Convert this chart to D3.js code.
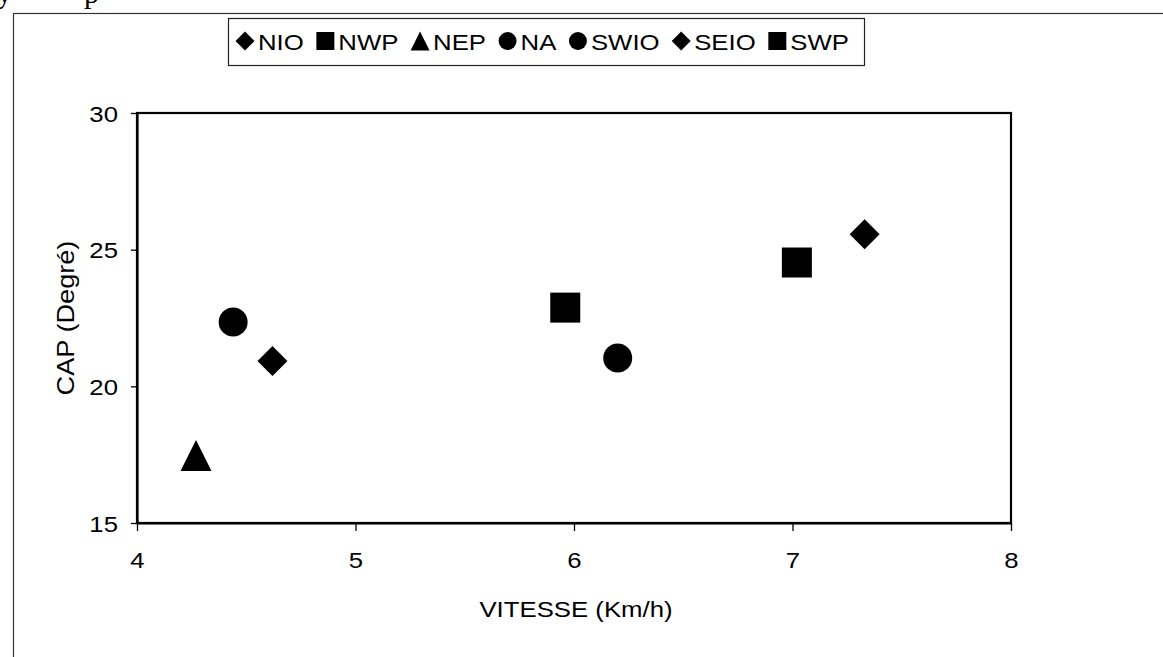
<!DOCTYPE html>
<html>
<head>
<meta charset="utf-8">
<script src="https://cdn.jsdelivr.net/npm/d3@7"></script>
<style>
  html, body { margin: 0; padding: 0; background: #fff; }
  svg { display: block; }
  text { font-family: Arial, "Liberation Sans", sans-serif; fill: #000; }
</style>
</head>
<body>
<svg id="chart" width="1163" height="657"></svg>
<script>
// ---- data ----
const categories = ["NIO", "NWP", "NEP", "NA", "SWIO", "SEIO", "SWP"];
const speedValues = [4.62, 5.96, 4.27, 4.44, 6.20, 7.33, 7.02];
const capValues = [20.93, 22.88, 17.47, 22.35, 21.04, 25.56, 24.53];
const markerShapes = ["diamond", "square", "triangle", "circle", "circle", "diamond", "square"];
const xTicks = [4, 5, 6, 7, 8];
const yTicks = [15, 20, 25, 30];
const xTitle = "VITESSE (Km/h)";
const yTitle = "CAP (Degré)";

// ---- layout ----
const plot = { left: 137, right: 1011, top: 113, bottom: 523 };
const svg = d3.select("#chart");
const stretch = 1.12;

// scanned-page fragments at top-left
svg.append("text").attr("x", -3).attr("y", 3).style("font-family", "'Liberation Serif', serif")
  .style("font-size", "30px").text("y");
svg.append("text").attr("x", 84).attr("y", 3).style("font-family", "'Liberation Serif', serif")
  .style("font-size", "30px").text("p");

// outer chart border (extends past right/bottom edges)
svg.append("rect").attr("x", 13.5).attr("y", 13.5).attr("width", 1300).attr("height", 800)
  .attr("fill", "none").attr("stroke", "#333").attr("stroke-width", 1.2);

const x = d3.scaleLinear().domain([4, 8]).range([plot.left, plot.right]);
const y = d3.scaleLinear().domain([15, 30]).range([plot.bottom, plot.top]);

// custom symbol types
const symDiamond = { draw(ctx, size) { const r = Math.sqrt(size) / 2; ctx.moveTo(0, -r); ctx.lineTo(r, 0); ctx.lineTo(0, r); ctx.lineTo(-r, 0); ctx.closePath(); } };
const symSquare = { draw(ctx, size) { const r = Math.sqrt(size) / 2; ctx.rect(-r, -r, 2 * r, 2 * r); } };
const symTriangle = { draw(ctx, size) { const r = Math.sqrt(size) / 2; ctx.moveTo(0, -r); ctx.lineTo(r, r); ctx.lineTo(-r, r); ctx.closePath(); } };
const symCircle = { draw(ctx, size) { const r = Math.sqrt(size) / 2; ctx.moveTo(r, 0); ctx.arc(0, 0, r, 0, 2 * Math.PI); } };
const shapeTypes = { diamond: symDiamond, square: symSquare, triangle: symTriangle, circle: symCircle };
// symbol "size" here = (bounding width)^2
const markerBox = { diamond: 30, square: 30, triangle: 31, circle: 29 };
const legendBox = { diamond: 19, square: 18, triangle: 19, circle: 18 };

// plot frame
svg.append("rect").attr("x", plot.left).attr("y", plot.top)
  .attr("width", plot.right - plot.left).attr("height", plot.bottom - plot.top)
  .attr("fill", "none").attr("stroke", "#000").attr("stroke-width", 2.2);

// axes
const xAxis = svg.append("g").attr("transform", `translate(0,${plot.bottom})`)
  .call(d3.axisBottom(x).tickValues(xTicks).tickFormat(d3.format("d")).tickSize(8).tickSizeOuter(0));
const yAxis = svg.append("g").attr("transform", `translate(${plot.left},0)`)
  .call(d3.axisLeft(y).tickValues(yTicks).tickFormat(d3.format("d")).tickSize(6).tickSizeOuter(0));
[xAxis, yAxis].forEach(a => {
  a.select(".domain").attr("stroke", "#000").attr("stroke-width", 2.2);
  a.selectAll(".tick line").attr("stroke", "#000").attr("stroke-width", 1.3);
  a.selectAll(".tick text").style("font-size", "23px").style("font-family", "Arial, 'Liberation Sans', sans-serif").attr("fill", "#000");
});
xAxis.selectAll(".tick text").attr("y", 29).attr("dy", "0.71em").attr("transform", `scale(${stretch},1)`);
yAxis.selectAll(".tick text").attr("x", -19 / stretch).attr("dy", "0.35em").attr("transform", `scale(${stretch},1)`);

// axis titles
svg.append("text").attr("transform", `translate(${(plot.left + plot.right) / 2 + 2},617) scale(${stretch},1)`)
  .attr("text-anchor", "middle").style("font-size", "23px").text(xTitle);
svg.append("text").attr("transform", `translate(74,318) rotate(-90) scale(1.18,1)`)
  .attr("text-anchor", "middle").style("font-size", "23px").text(yTitle);

// points
const pts = categories.map((c, i) => ({ c, sx: speedValues[i], cy: capValues[i], shape: markerShapes[i] }));
svg.append("g").selectAll("path").data(pts).join("path")
  .attr("transform", d => `translate(${x(d.sx)},${y(d.cy)})`)
  .attr("d", d => d3.symbol().type(shapeTypes[d.shape]).size(markerBox[d.shape] ** 2)())
  .attr("fill", "#000");

// legend
const legend = svg.append("g");
legend.append("rect").attr("x", 228.5).attr("y", 18.5).attr("width", 636).attr("height", 47)
  .attr("fill", "#fff").attr("stroke", "#222").attr("stroke-width", 1.2);
const legY = 41, legStart = 236, legEnd = 849, legFont = 23, legSx = 1.12;
// measure text widths first, then distribute gaps to fill the box
const widths = pts.map(d => {
  const t = svg.append("text").style("font-size", legFont + "px").text(d.c);
  const w = t.node().getComputedTextLength() * legSx; t.remove(); return w;
});
const markW = 22;
const gap = (legEnd - legStart - d3.sum(widths) - markW * pts.length) / (pts.length - 1);
let lx = legStart;
pts.forEach((d, i) => {
  const s = legendBox[d.shape];
  legend.append("path").attr("transform", `translate(${lx + 9},${legY})`)
    .attr("d", d3.symbol().type(shapeTypes[d.shape]).size(s * s)()).attr("fill", "#000");
  legend.append("text").attr("transform", `translate(${lx + markW},${legY + 8.5}) scale(${legSx},1)`)
    .style("font-size", legFont + "px").text(d.c);
  lx = lx + markW + widths[i] + gap;
});
</script>
</body>
</html>
